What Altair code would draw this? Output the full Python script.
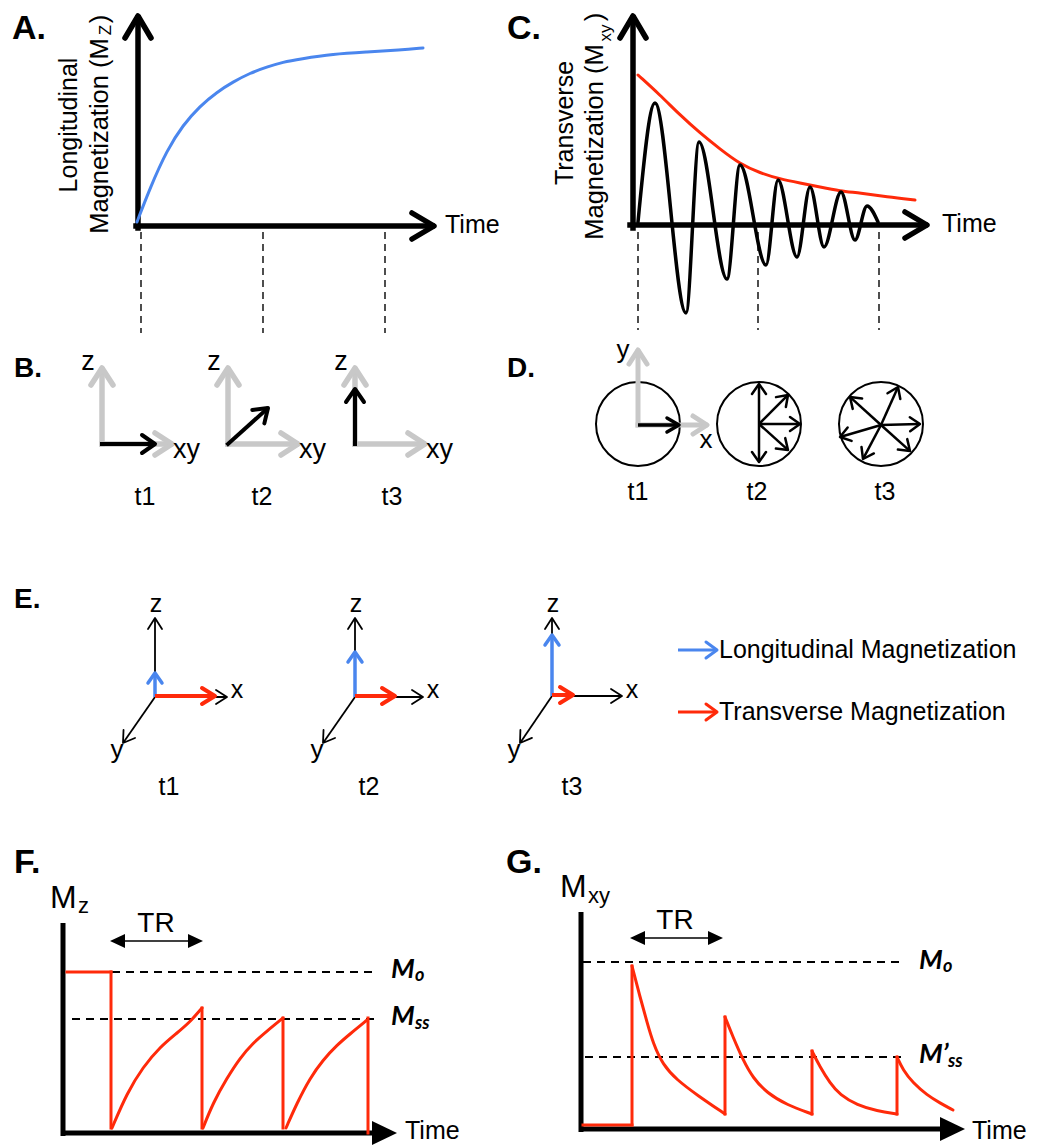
import math
import altair as alt
import pandas as pd

W, H = 1038, 1145
RED = "#ff2a0a"
BLUE = "#4a86ee"
GRAY = "#c8c8c8"
BLACK = "#000000"
SANS = "Liberation Sans"
ITAL = "Lato"

# ------------------------------------------------------------------
# Values (picture units, y downwards)
# ------------------------------------------------------------------
# Panel A : longitudinal recovery
a_curve_x = [137, 150, 167, 183, 200, 217, 233, 250, 267, 283, 300, 333, 367, 400, 423]
a_curve_y = [222, 188, 150, 125, 106, 92, 82, 73, 67, 62, 59, 54, 52, 50, 48]
a_time_marks = [141, 263, 385]

# Panel C : transverse decay (envelope and FID extremes)
c_env_x = [638, 660, 680, 700, 720, 740, 760, 780, 800, 820, 840, 860, 887, 915]
c_env_y = [75, 95, 115, 133, 149, 164, 173, 179, 183, 187, 191, 193, 197, 200]
c_fid_x = [638, 655, 686, 699, 727, 740, 766, 778, 797, 810, 824, 841, 855, 867, 878]
c_fid_y = [222, 103, 313, 142, 279, 165, 265, 180, 257, 187, 247, 192, 240, 206, 222]
c_time_marks = [638, 758, 879]

# Panel B : z / xy frames and magnetisation vectors
b_origin_x = [102, 228, 355]
b_origin_y = 444
b_vec_tip = [(155, 444), (268, 408), (355, 389)]
b_labels_t = ["t1", "t2", "t3"]

# Panel D : spin dephasing in the xy plane
d_center_x = [638, 759, 881]
d_center_y = 424
d_t1_tips = [(679, 425)]
d_t2_tips = [(759, 384), (759, 462), (800, 424), (788, 395), (788, 450)]
d_t3_tips = [(920, 424), (898, 387), (850, 397), (840, 437), (863, 459), (910, 451)]

# Panel E : 3D frames
e_origin_x = [155, 355, 552]
e_origin_y = [697, 697, 696]
e_x_tip = [227, 423, 622]
e_y_tip = [(123, 743), (323, 743), (520, 743)]
e_z_tip = 618
e_blue_tip = [673, 652, 635]
e_red_tip = [215, 395, 573]

# Panel F : saturation recovery Mz
f_mo, f_mss = 972, 1019
f_red_steps = [(67, 972, 111, 972), (111, 972, 111, 1128), (202, 1008, 202, 1128),
               (283, 1018, 283, 1128), (368, 1018, 368, 1133)]
f_curves = [
    ([112, 127, 143, 160, 177, 190, 202], [1128, 1093, 1067, 1047, 1033, 1022, 1008]),
    ([203, 213, 227, 240, 253, 267, 283], [1128, 1103, 1078, 1058, 1043, 1031, 1018]),
    ([286, 297, 310, 323, 337, 350, 367], [1128, 1103, 1078, 1060, 1045, 1034, 1020]),
]

# Panel G : transverse magnetisation Mxy
g_mo, g_mss = 962, 1057
g_red_steps = [(583, 1125, 632, 1125), (632, 1125, 632, 966), (725, 1114, 725, 1017),
               (812, 1114, 812, 1051), (897, 1114, 897, 1057)]
g_curves = [
    ([632, 640, 647, 653, 663, 677, 697, 725], [966, 997, 1022, 1043, 1065, 1080, 1095, 1114]),
    ([725, 733, 743, 753, 767, 787, 812], [1017, 1037, 1060, 1078, 1093, 1105, 1114]),
    ([812, 820, 830, 840, 857, 877, 897], [1051, 1067, 1083, 1095, 1105, 1111, 1114]),
    ([897, 903, 913, 927, 940, 953], [1057, 1070, 1083, 1095, 1103, 1110]),
]

# ------------------------------------------------------------------
XS = alt.Scale(domain=[0, W], nice=False, zero=False)
YS = alt.Scale(domain=[0, H], nice=False, zero=False, reverse=True)
X = alt.X("x:Q", scale=XS, axis=None)
Y = alt.Y("y:Q", scale=YS, axis=None)

layers = []


def add_rules(segs, color, width, dash=None, cap="butt"):
    df = pd.DataFrame(segs, columns=["x", "y", "x2", "y2"])
    kw = dict(color=color, strokeWidth=width, strokeCap=cap)
    if dash:
        kw["strokeDash"] = dash
    layers.append(alt.Chart(df).mark_rule(**kw).encode(
        x=X, y=Y, x2=alt.X2("x2:Q"), y2=alt.Y2("y2:Q")))


def add_heads(arrows, path, color, width=2, filled=False):
    rows = [{"x": x1, "y": y1,
             "a": math.degrees(math.atan2(y1 - y0, x1 - x0)) % 360}
            for (x0, y0, x1, y1) in arrows]
    df = pd.DataFrame(rows)
    kw = dict(shape=path, size=4, filled=filled, opacity=1, color=color,
              strokeJoin="round", strokeCap="round",
              strokeWidth=(0 if filled else width))
    layers.append(alt.Chart(df).mark_point(**kw).encode(
        x=X, y=Y, angle=alt.Angle("a:Q", scale=None)))


def add_arrows(arrows, path, color, width, cap="butt", back=0.0):
    segs = []
    for (x0, y0, x1, y1) in arrows:
        L = math.hypot(x1 - x0, y1 - y0)
        segs.append((x0, y0, x1 - (x1 - x0) / L * back, y1 - (y1 - y0) / L * back))
    add_rules(segs, color, width, cap=cap)
    add_heads(arrows, path, color, width)


def add_curve(xs, ys, color, width, interp="basis"):
    df = pd.DataFrame({"x": xs, "y": ys, "i": list(range(len(xs)))})
    layers.append(alt.Chart(df).mark_line(
        color=color, strokeWidth=width, interpolate=interp,
        strokeCap="round", strokeJoin="round").encode(x=X, y=Y, order="i:Q"))


def add_text(rows, size, font=SANS, weight="normal", style="normal",
             align="left", baseline="alphabetic", angle=0, color=BLACK):
    df = pd.DataFrame(rows, columns=["t", "x", "y"])
    kw = dict(font=font, fontSize=size, fontWeight=weight, fontStyle=style,
              align=align, baseline=baseline, color=color)
    if angle:
        kw["angle"] = angle
    layers.append(alt.Chart(df).mark_text(**kw).encode(x=X, y=Y, text="t:N"))


BIG = "M-22,-13L0,0L-22,13"
GRAYB = "M-17,-11L0,0L-17,11"
BLKB = "M-13,-9L0,0L-13,9"
GRAYD = "M-14,-9L0,0L-14,9"
BLKD1 = "M-12,-7L0,0L-12,7"
BLKD = "M-10,-7L0,0L-10,7"
E_AX = "M-11,-7L0,0L-11,7"
E_BLUE = "M-10,-7L0,0L-10,7"
E_RED = "M-13,-8L0,0L-13,8"
LEG = "M-11,-8L0,0L-11,8"
TRI_BIG = "M0,0L-25,-12L-25,12Z"
TRI_SMALL = "M0,0L-15,-7L-15,7Z"

# ---------------- Panel A ----------------
add_rules([(x, 232, x, 333) for x in a_time_marks], "#222222", 1.6, dash=[7, 5])
add_arrows([(138, 228, 138, 16), (136, 226, 434, 226)], BIG, BLACK, 5.5, cap="square", back=2)
add_curve(a_curve_x, a_curve_y, BLUE, 3)

# ---------------- Panel C ----------------
add_rules([(x, 232, x, 330) for x in c_time_marks], "#222222", 1.6, dash=[7, 5])
add_arrows([(633, 228, 633, 16), (630, 225, 927, 225)], BIG, BLACK, 5.5, cap="square", back=2)
add_curve(c_env_x, c_env_y, RED, 3)
add_curve(c_fid_x, c_fid_y, BLACK, 3.5, interp="monotone")

# ---------------- Panel B ----------------
gray_b = []
for ox in b_origin_x:
    gray_b.append((ox, b_origin_y, ox, 368))
    gray_b.append((ox, b_origin_y, ox + 70, b_origin_y))
add_arrows(gray_b, GRAYB, GRAY, 5.5, cap="square", back=2)
add_arrows([(ox, b_origin_y, tx, ty) for ox, (tx, ty) in zip(b_origin_x, b_vec_tip)],
           BLKB, BLACK, 4, cap="square", back=2)

# ---------------- Panel D ----------------
circ = pd.DataFrame({"x": d_center_x, "y": [d_center_y] * 3})
layers.append(alt.Chart(circ).mark_point(
    shape="circle", size=84 * 84, filled=True, fill="white", stroke=BLACK,
    strokeWidth=2, opacity=1).encode(x=X, y=Y))
add_arrows([(638, 425, 638, 350), (638, 425, 707, 425)], GRAYD, GRAY, 5, cap="square", back=2)
add_arrows([(638, 425, tx, ty) for (tx, ty) in d_t1_tips], BLKD1, BLACK, 3.5, back=1)
add_arrows([(d_center_x[1], d_center_y, tx, ty) for (tx, ty) in d_t2_tips], BLKD, BLACK, 2.5, back=1)
add_arrows([(d_center_x[2], d_center_y + 1, tx, ty) for (tx, ty) in d_t3_tips], BLKD, BLACK, 2.5, back=1)

# ---------------- Panel E ----------------
e_black = []
for ox, oy, xt, (yx, yy) in zip(e_origin_x, e_origin_y, e_x_tip, e_y_tip):
    e_black += [(ox, oy, ox, e_z_tip), (ox, oy, xt, oy), (ox, oy, yx, yy)]
add_arrows(e_black, E_AX, BLACK, 1.8, back=1)
add_arrows([(ox, oy, ox, bt) for ox, oy, bt in zip(e_origin_x, e_origin_y, e_blue_tip)],
           E_BLUE, BLUE, 3.5, back=1)
add_arrows([(ox, oy - 1, rt, oy - 1) for ox, oy, rt in zip(e_origin_x, e_origin_y, e_red_tip)],
           E_RED, RED, 4, back=1)
# legend
add_arrows([(678, 650, 717, 650)], LEG, BLUE, 3, back=1)
add_arrows([(678, 712, 717, 712)], LEG, RED, 3, back=1)

# ---------------- Panel F ----------------
add_rules([(112, f_mo, 375, f_mo), (72, f_mss, 375, f_mss)], BLACK, 2, dash=[8, 6])
add_rules([(63, 923, 63, 1136), (61, 1133, 375, 1133)], BLACK, 5)
add_heads([(61, 1133, 397, 1133)], TRI_BIG, BLACK, filled=True)
add_rules([(114, 941, 199, 941)], BLACK, 1.5)
add_heads([(203, 941, 110, 941), (110, 941, 203, 941)], TRI_SMALL, BLACK, filled=True)
add_rules(f_red_steps, RED, 3, cap="square")
for xs, ys in f_curves:
    add_curve(xs, ys, RED, 3)

# ---------------- Panel G ----------------
add_rules([(583, g_mo, 902, g_mo), (585, g_mss, 907, g_mss)], BLACK, 2, dash=[8, 6])
add_rules([(581, 912, 581, 1132), (579, 1129, 943, 1129)], BLACK, 5)
add_heads([(579, 1129, 965, 1129)], TRI_BIG, BLACK, filled=True)
add_rules([(634, 938, 719, 938)], BLACK, 1.5)
add_heads([(723, 938, 630, 938), (630, 938, 723, 938)], TRI_SMALL, BLACK, filled=True)
add_rules(g_red_steps, RED, 3, cap="square")
for xs, ys in g_curves:
    add_curve(xs, ys, RED, 3)

# ---------------- Texts ----------------
add_text([("A.", 12, 39), ("C.", 507, 39), ("F.", 14, 873), ("G.", 506, 873)],
         34, weight="bold")
add_text([("B.", 14, 377), ("D.", 507, 377), ("E.", 14, 608)], 28, weight="bold")
add_text([("Time", 445, 233), ("Time", 942, 232), ("Time", 405, 1139), ("Time", 972, 1139)], 25)

# rotated axis titles
add_text([("Longitudinal", 77, 125), ("Transverse", 573, 123)], 25, align="center", angle=270)
add_text([("Magnetization (M", 108, 136), ("Magnetization (M", 603, 142)], 25.5,
         align="center", angle=270)
add_text([("Z", 111, 30)], 17, align="center", angle=270)
add_text([("xy", 611, 33)], 17, align="center", angle=270)
add_text([(")", 108, 19), (")", 603, 17)], 25.5, align="center", angle=270)

# panel B labels
add_text([("z", x - 14, 370) for x in b_origin_x], 27, align="center")
add_text([("xy", x + 71, 458) for x in b_origin_x], 27)
add_text([(t, x, 505) for t, x in zip(b_labels_t, [145, 262, 392])], 25, align="center")

# panel D labels
add_text([("y", 623, 358), ("x", 706, 448)], 26, align="center")
add_text([(t, x, 500) for t, x in zip(b_labels_t, [638, 757, 885])], 25, align="center")

# panel E labels
add_text([("z", x + 1, 612) for x in e_origin_x], 25, align="center")
add_text([("x", x + 10, 698) for x in e_x_tip], 25, align="center")
add_text([("y", x - 6, 758) for (x, _) in e_y_tip], 26, align="center")
add_text([(t, x, 795) for t, x in zip(b_labels_t, [169, 369, 572])], 25, align="center")
add_text([("Longitudinal Magnetization", 719, 658),
          ("Transverse Magnetization", 719, 720)], 25)

# panels F / G labels
add_text([("M", 50, 908), ("M", 560, 897)], 32)
add_text([("z", 78, 913), ("xy", 588, 903)], 22)
add_text([("TR", 156, 932), ("TR", 675, 929)], 28, align="center")
add_text([("M", 391, 978), ("M", 391, 1025), ("M", 919, 969), ("M\u2019", 919, 1063)],
         27, font=ITAL, style="italic", weight="bold")
add_text([("o", 415, 981), ("ss", 415, 1029), ("o", 943, 972), ("ss", 948, 1067)],
         18, font=ITAL, style="italic", weight="bold")

chart = alt.layer(*layers).properties(
    width=W, height=H, padding=0, background="white",
    autosize=alt.AutoSizeParams(type="none"),
).configure_view(strokeWidth=0)

chart.save("out.html", embed_options={"renderer": "svg", "actions": False})
